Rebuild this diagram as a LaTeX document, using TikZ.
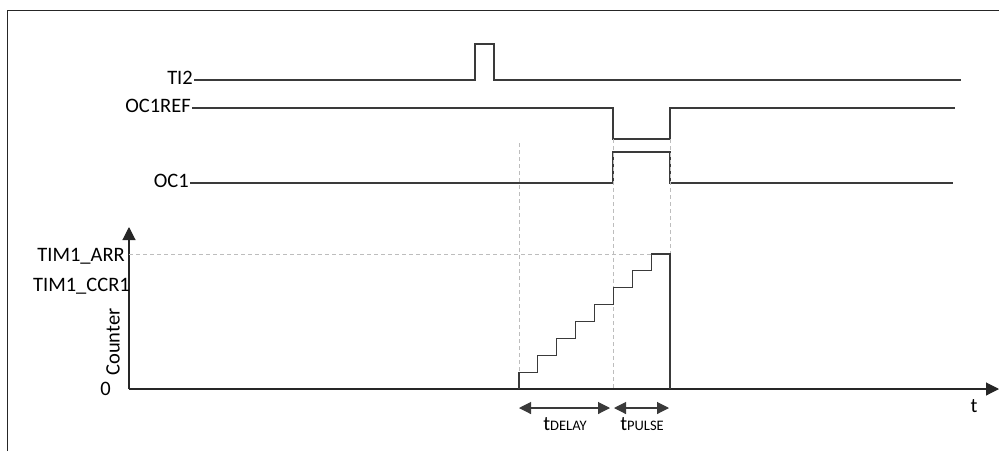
\documentclass[tikz,border=0pt]{standalone}
\usepackage{fontspec}
\setmainfont{Carlito}
\usetikzlibrary{arrows.meta,positioning}
\definecolor{WaveDark}{HTML}{3A3A3A}
\definecolor{GuideGray}{HTML}{BDBDBD}

\begin{document}
\begin{tikzpicture}[x=1pt, y=-1pt,
    siglabel/.style={anchor=east, inner sep=1pt, font=\fontsize{20.5}{22}\selectfont},
    sublabel/.style={anchor=base, inner sep=0pt, font=\fontsize{20.5}{22}\selectfont},
    wave/.style={draw=WaveDark, line width=1.1pt},
    guide/.style={draw=GuideGray, line width=0.9pt, dash pattern=on 4pt off 3pt},
    axis/.style={draw=black!85, line width=1.1pt, -{Triangle[length=13pt, width=13pt]}},
    span/.style={draw=WaveDark, line width=1.1pt,
                 {Triangle[length=12pt, width=12pt]}-{Triangle[length=12pt, width=12pt]}}
]
\useasboundingbox (0,0) rectangle (999,451);
\draw[draw=black!85, line width=1pt] (7,451) -- (7,10) -- (999,10);

% signal names
\node[siglabel] (ti2) at (194,78) {TI2};
\node[siglabel] (ref) at (192,106) {OC1REF};
\node[siglabel] (oc1) at (190,181) {OC1};

% key instants
\coordinate (trig) at (519,143);
\coordinate (cmp) at (613,139);
\coordinate (arr) at (670,139);

% waveforms
\draw[wave] (ti2.east |- 0,80) -- (475,80) -- (475,44) -- (494,44) -- (494,80) -- (961,80);
\draw[wave] (ref.east |- 0,108) -- (613,108) -- (613,139) -- (670,139) -- (670,108) -- (955,108);
\draw[wave] (oc1.east |- 0,183) -- (613,183) -- (613,152) -- (670,152) -- (670,183) -- (953,183);

% counter axes
\coordinate (origin) at (129,389);
\draw[axis] (origin) -- (129,227);
\draw[axis] (origin) -- (999,389);
\node[siglabel] (arrlbl) at (126,256) {TIM1\_ARR};
\node[siglabel] (ccrlbl) at (131,286) {TIM1\_CCR1};
\node[siglabel] (zero) at (112,389) {0};
\node[rotate=90, inner sep=0pt, font=\fontsize{20.5}{22}\selectfont] (counter) at (113,342) {Counter};
\node[inner sep=0pt, font=\fontsize{20.5}{22}\selectfont] (tlbl) at (974,406) {t};

% guide lines
\draw[guide] (trig) -- (trig |- origin);
\draw[guide] (cmp) -- (cmp |- origin);
\draw[guide] (arr) -- (arr |- origin);
\draw[guide] (origin |- 0,254) -- (670,254);

% counter staircase
\draw[wave] (519,389) \foreach \i in {1,...,8} {
    -- ({519+18.875*(\i-1)},{389-16.875*\i}) -- ({519+18.875*\i},{389-16.875*\i})
  } -- (670,389);

% delay and pulse widths
\coordinate (d1) at (519,408);
\coordinate (d2) at (610,408);
\coordinate (p1) at (614,408);
\coordinate (p2) at (669,408);
\draw[span] (d1) -- (d2);
\draw[span] (p1) -- (p2);
\node[sublabel] (tdelay) at (565,430) {t{\fontsize{14.5}{16}\selectfont DELAY}};
\node[sublabel] (tpulse) at (642,430) {t{\fontsize{14.5}{16}\selectfont PULSE}};
\end{tikzpicture}
\end{document}
